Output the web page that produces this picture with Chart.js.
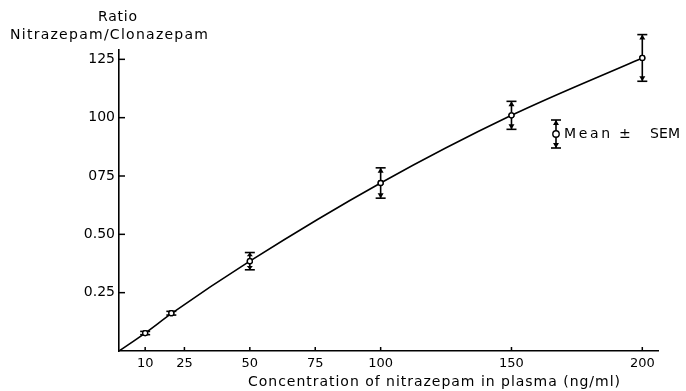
<!DOCTYPE html>
<html>
<head>
<meta charset="utf-8">
<script src="https://cdn.jsdelivr.net/npm/chart.js@4/dist/chart.umd.min.js"></script>
<style>
html,body{margin:0;padding:0;background:#fff;}
#wrap{width:686px;height:391px;position:relative;}
</style>
</head>
<body>
<div id="wrap"><canvas id="c" width="686" height="391"></canvas></div>
<script>
// ---- data ----
const concentrations = [10, 20, 50, 100, 150, 200];
const ratioMean = [0.077, 0.162, 0.385, 0.72, 1.01, 1.256];
const ratioSem = [0.007, 0.008, 0.037, 0.065, 0.06, 0.10];
const fitX = [0, 10, 20, 50, 100, 150, 200];
const fitY = [0, 0.077, 0.16, 0.385, 0.72, 1.01, 1.256];
const xTickValues = [10, 25, 50, 75, 100, 150, 200];
const xTickLabels = ["10", "25", "50", "75", "100", "150", "200"];
const yTickValues = [0.25, 0.5, 0.75, 1.0, 1.25];
const yTickLabels = ["0.25", "0.50", "075", "100", "125"];
const yTitle1 = "Ratio";
const yTitle2 = "Nitrazepam/Clonazepam";
const xTitle = "Concentration of nitrazepam in plasma (ng/ml)";
const legendParts = ["Mean", "\u00b1", "SEM"];

const FONT = "'DejaVu Sans', sans-serif";

function arrowEnd(ctx, x, yFrom, yTo) {
  const dir = yTo < yFrom ? -1 : 1;
  const len = Math.abs(yTo - yFrom);
  const ah = Math.min(5, len * 0.6);
  ctx.beginPath();
  ctx.moveTo(x, yFrom);
  ctx.lineTo(x, yTo);
  ctx.stroke();
  if (ah > 1.5) {
    ctx.beginPath();
    ctx.moveTo(x, yTo);
    ctx.lineTo(x - 3, yTo - dir * ah);
    ctx.lineTo(x + 3, yTo - dir * ah);
    ctx.closePath();
    ctx.fill();
  }
  ctx.beginPath();
  ctx.moveTo(x - 5, yTo);
  ctx.lineTo(x + 5, yTo);
  ctx.stroke();
}

function spreadText(ctx, text, left, y, width, size) {
  ctx.font = size + "px " + FONT;
  ctx.letterSpacing = "0px";
  const w = ctx.measureText(text).width;
  const ls = text.length > 1 ? (width - w) / (text.length - 1) : 0;
  ctx.letterSpacing = ls + "px";
  ctx.textAlign = 'left';
  ctx.fillText(text, left, y);
  ctx.letterSpacing = "0px";
}

const decor = {
  id: 'decor',
  afterDatasetsDraw(chart) {
    const ctx = chart.ctx;
    const xs = chart.scales.x, ys = chart.scales.y;
    const area = chart.chartArea;
    ctx.save();
    ctx.strokeStyle = '#000';
    ctx.fillStyle = '#000';
    ctx.lineWidth = 1.5;
    xTickValues.forEach(v => {
      const px = xs.getPixelForValue(v);
      ctx.beginPath();
      ctx.moveTo(px, area.bottom);
      ctx.lineTo(px, area.bottom - 4);
      ctx.stroke();
    });
    yTickValues.forEach(v => {
      const py = ys.getPixelForValue(v);
      ctx.beginPath();
      ctx.moveTo(area.left, py);
      ctx.lineTo(area.left + 6, py);
      ctx.stroke();
    });
    ctx.lineWidth = 1.6;
    concentrations.forEach((c, i) => {
      const px = xs.getPixelForValue(c);
      const pm = ys.getPixelForValue(ratioMean[i]);
      const pt = ys.getPixelForValue(ratioMean[i] + ratioSem[i]);
      const pb = ys.getPixelForValue(ratioMean[i] - ratioSem[i]);
      arrowEnd(ctx, px, pm - 2.5, pt);
      arrowEnd(ctx, px, pm + 2.5, pb);
    });
    concentrations.forEach((c, i) => {
      const px = xs.getPixelForValue(c);
      const pm = ys.getPixelForValue(ratioMean[i]);
      ctx.beginPath();
      ctx.arc(px, pm, 2.5, 0, Math.PI * 2);
      ctx.fillStyle = '#fff';
      ctx.fill();
      ctx.lineWidth = 1.3;
      ctx.stroke();
      ctx.fillStyle = '#000';
    });
    // legend
    const lx = 556, ly = 134;
    ctx.lineWidth = 1.6;
    arrowEnd(ctx, lx, ly - 3, ly - 14);
    arrowEnd(ctx, lx, ly + 3, ly + 14);
    ctx.beginPath();
    ctx.arc(lx, ly, 3.2, 0, Math.PI * 2);
    ctx.fillStyle = '#fff';
    ctx.fill();
    ctx.lineWidth = 1.4;
    ctx.stroke();
    ctx.fillStyle = '#000';
    ctx.textBaseline = 'middle';
    spreadText(ctx, legendParts[0], 564, ly, 46, 14);
    spreadText(ctx, legendParts[1], 619, ly, 9, 14);
    spreadText(ctx, legendParts[2], 650, ly, 30, 14);
    // titles
    spreadText(ctx, yTitle1, 98, 17, 39, 14);
    spreadText(ctx, yTitle2, 10, 35, 198, 14);
    spreadText(ctx, xTitle, 248, 382, 372, 14);
    ctx.restore();
  }
};

new Chart(document.getElementById('c'), {
  type: 'line',
  data: {
    datasets: [
      {
        label: 'fit',
        data: fitX.map((x, i) => ({x: x, y: fitY[i]})),
        borderColor: '#000',
        borderWidth: 1.6,
        pointRadius: 0,
        fill: false,
        cubicInterpolationMode: 'monotone'
      },
      {
        label: 'Mean \u00b1 SEM',
        data: concentrations.map((x, i) => ({x: x, y: ratioMean[i]})),
        showLine: false,
        pointRadius: 2.5,
        pointBackgroundColor: '#fff',
        pointBorderColor: '#000',
        pointBorderWidth: 1.3
      }
    ]
  },
  options: {
    responsive: false,
    animation: false,
    layout: {padding: {top: 50, right: 28, bottom: 0, left: 0}},
    plugins: {legend: {display: false}, tooltip: {enabled: false}},
    scales: {
      x: {
        type: 'linear',
        min: 0, max: 206,
        grid: {display: false, drawTicks: false},
        border: {display: true, color: '#000', width: 1.6},
        afterBuildTicks: s => { s.ticks = xTickValues.map(v => ({value: v})); },
        afterFit: s => { s.height = 40; },
        ticks: {
          color: '#000', padding: 5, maxRotation: 0, autoSkip: false,
          font: {family: FONT, size: 13},
          callback: (v) => { const i = xTickValues.indexOf(v); return i >= 0 ? xTickLabels[i] : ''; }
        }
      },
      y: {
        type: 'linear',
        min: 0, max: 1.29,
        grid: {display: false, drawTicks: false},
        border: {display: true, color: '#000', width: 1.6},
        afterBuildTicks: s => { s.ticks = yTickValues.map(v => ({value: v})); },
        afterFit: s => { s.width = 119; },
        ticks: {
          color: '#000', padding: 4, autoSkip: false,
          font: {family: FONT, size: 14},
          callback: (v) => { const i = yTickValues.indexOf(v); return i >= 0 ? yTickLabels[i] : ''; }
        }
      }
    }
  },
  plugins: [decor]
});
</script>
</body>
</html>
